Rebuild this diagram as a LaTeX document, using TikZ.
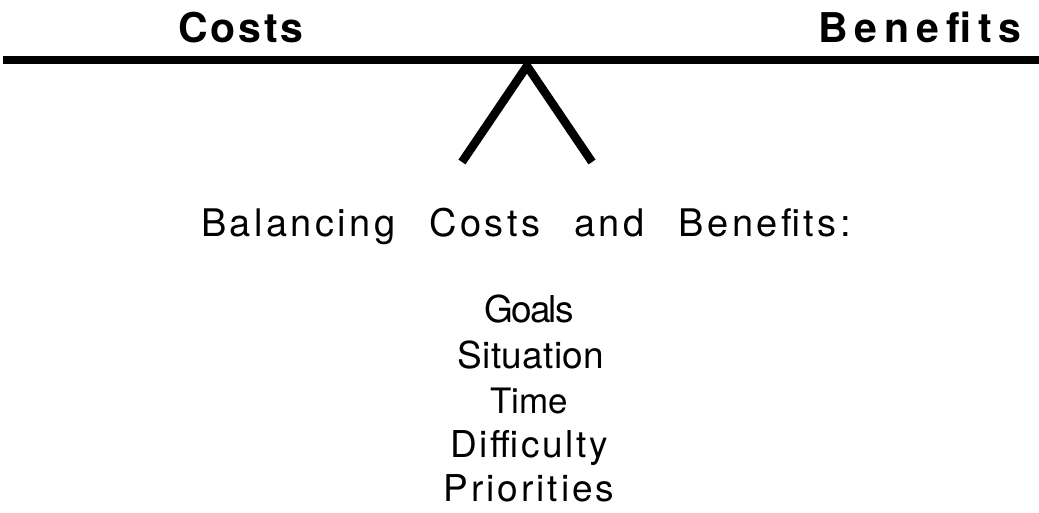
\documentclass[tikz,border=0pt]{standalone}
\usepackage{fontspec}
\setmainfont{TeX Gyre Heros}
\newcommand{\track}[1]{\addfontfeatures{LetterSpace=#1}}

\begin{document}
\begin{tikzpicture}[x=1pt, y=-1pt,
    title/.style={anchor=base west, inner sep=0pt, font=\fontsize{41}{48}\selectfont\bfseries},
    caption/.style={anchor=base west, inner sep=0pt, font=\fontsize{38}{45}\selectfont},
    item/.style={anchor=base, inner sep=0pt, font=\fontsize{37}{44}\selectfont},
    bar/.style={draw, line width=8.5pt}]
  \useasboundingbox (0,0) rectangle (1039,512);

  \node[title] (costs) at (178,42) {\track{7}Costs};
  \node[title] (benefits) at (818,42) {\track{17}Benefits};

  \coordinate (beamleft) at (3,60);
  \coordinate (beamright) at (1039,60);
  \coordinate (apex) at (527,66);
  \coordinate (footleft) at (462,162);
  \coordinate (footright) at (592,162);

  \draw[bar] (footleft) -- (apex) -- (footright);
  \draw[bar] (beamleft) -- (beamright);

  \node[caption] (balance) at (201,236) {\track{9}\spaceskip=0.9em Balancing Costs and Benefits:};

  \node[item] (goals) at (529,322) {\track{-5}Goals};
  \node[item] (situation) at (531,368) {\track{1}Situation};
  \node[item, font=\fontsize{35}{42}\selectfont] (time) at (529,413) {Time};
  \node[item] (difficulty) at (529,457) {\track{7}Difficulty};
  \node[item] (priorities) at (529,501) {\track{8}Priorities};
\end{tikzpicture}
\end{document}
